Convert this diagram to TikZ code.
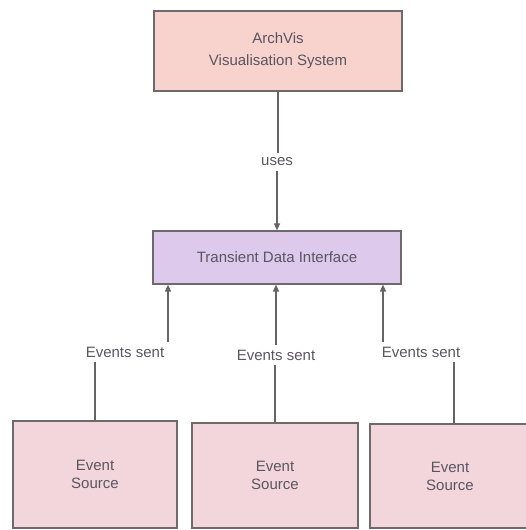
\documentclass[tikz,border=0pt]{standalone}
\usepackage{fontspec}
\setmainfont{Liberation Sans}
\usetikzlibrary{arrows.meta}
\definecolor{archfill}{HTML}{F8D2CD}
\definecolor{tdifill}{HTML}{DCC9EC}
\definecolor{srcfill}{HTML}{F3D6DC}
\definecolor{boxline}{HTML}{6E6A6C}
\definecolor{lineclr}{HTML}{666266}
\definecolor{txt}{HTML}{5A5560}
\begin{document}
\begin{tikzpicture}[x=1pt,y=-1pt,
  box/.style={draw=boxline, line width=1.2pt, inner sep=0pt, align=center, text=txt},
  lbl/.style={text=txt, font=\fontsize{15}{18}\selectfont, inner sep=5pt},
  conn/.style={draw=lineclr, line width=1.3pt},
  arr/.style={conn, -{Triangle[width=6pt,length=7pt]}}]
\useasboundingbox (0,0) rectangle (526,530);
\node[box, fill=archfill, minimum width=248pt, minimum height=80pt, font=\fontsize{15}{22}\selectfont] (arch) at (278,51) {ArchVis\\Visualisation System};
\node[box, fill=tdifill, minimum width=248pt, minimum height=53pt, font=\fontsize{15}{18}\selectfont] (tdi) at (277,257.5) {Transient Data Interface};
\node[box, fill=srcfill, minimum width=164pt, minimum height=107pt, font=\fontsize{15}{18}\selectfont] (s1) at (95,474.5) {Event\\Source};
\node[box, fill=srcfill, minimum width=166pt, minimum height=105pt, font=\fontsize{15}{18}\selectfont] (s2) at (275,475.5) {Event\\Source};
\node[box, fill=srcfill, minimum width=160pt, minimum height=104pt, font=\fontsize{15}{18}\selectfont] (s3) at (450,476) {Event\\Source};
\node[lbl] (uses) at (277,162) {uses};
\node[lbl] (l1) at (125,352) {Events sent};
\node[lbl] (l2) at (276,355) {Events sent};
\node[lbl] (l3) at (421,352) {Events sent};
\draw[conn] (arch.south) -- (arch.south |- uses.north);
\draw[arr] (uses.south) -- (uses.south |- tdi.north);
\draw[arr] ([xshift=43pt]l1.north) -- ([xshift=43pt]l1.north |- tdi.south);
\draw[conn] (s1.north) -- (s1.north |- l1.south);
\draw[arr] (l2.north) -- (l2.north |- tdi.south);
\draw[conn] (s2.north) -- (s2.north |- l2.south);
\draw[arr] ([xshift=-38pt]l3.north) -- ([xshift=-38pt]l3.north |- tdi.south);
\draw[conn] ([xshift=4pt]s3.north) -- ([xshift=4pt]s3.north |- l3.south);
\end{tikzpicture}
\end{document}
